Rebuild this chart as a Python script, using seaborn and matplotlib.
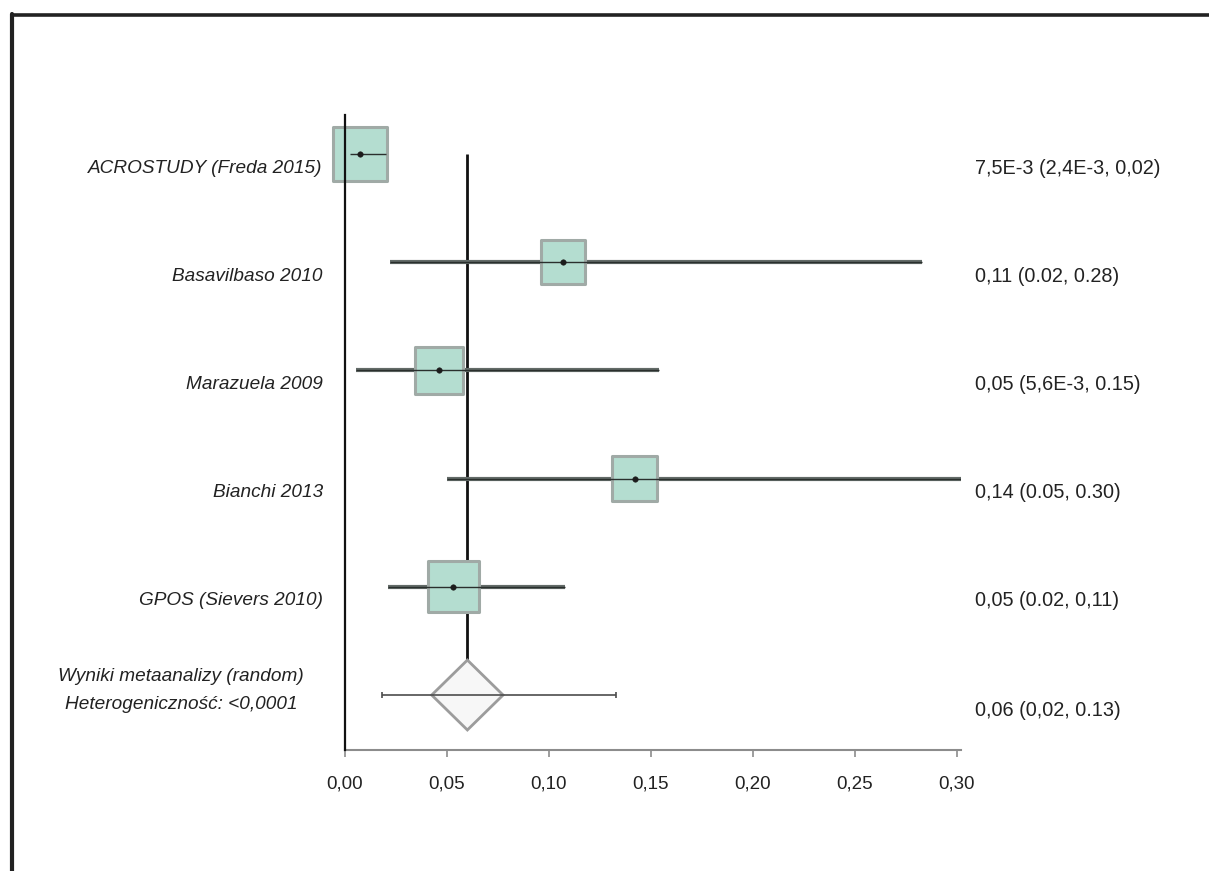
import numpy as np
import pandas as pd
import matplotlib
matplotlib.use("Agg")
import matplotlib.pyplot as plt
import seaborn as sns
from matplotlib.lines import Line2D
from matplotlib.patches import Polygon

# Study-level results (proportion with 95% CI) and study weights (%)
studies = ["ACROSTUDY (Freda 2015)", "Basavilbaso 2010", "Marazuela 2009",
           "Bianchi 2013", "GPOS (Sievers 2010)"]
estimates = [0.0075, 0.107, 0.046, 0.142, 0.053]
ci_low = [0.0024, 0.022, 0.0056, 0.050, 0.021]
ci_high = [0.020, 0.283, 0.154, 0.302, 0.108]
weights = [24.8, 16.2, 19.1, 17.6, 22.3]
effect_labels = ["7,5E-3 (2,4E-3, 0,02)", "0,11 (0.02, 0.28)", "0,05 (5,6E-3, 0.15)",
                 "0,14 (0.05, 0.30)", "0,05 (0.02, 0,11)"]

# Pooled (random effects) result
pooled_estimate = 0.060
pooled_low = 0.018
pooled_high = 0.133
diamond_low = 0.0425
diamond_high = 0.0775
pooled_label = "0,06 (0,02, 0.13)"
summary_lines = ["Wyniki metaanalizy (random)", "Heterogeniczność: <0,0001"]

x_ticks = [0.00, 0.05, 0.10, 0.15, 0.20, 0.25, 0.30]
x_tick_labels = ["0,00", "0,05", "0,10", "0,15", "0,20", "0,25", "0,30"]

sns.set_theme(style="white")
plt.rcParams["font.family"] = ["Liberation Sans", "DejaVu Sans"]

W, H = 1209, 871
fig = plt.figure(figsize=(W / 100, H / 100), dpi=100)
ax = fig.add_axes([345 / W, 1 - 750 / H, 616 / W, 635 / H])

rows = np.arange(len(studies))
pooled_row = len(studies)

# Confidence interval lines
ax.hlines(rows, ci_low, ci_high, color="#636b68", lw=3.0, zorder=2)

# Pooled estimate reference line
ax.vlines(pooled_estimate, 0, pooled_row - 0.323, color="#111111", lw=2.0, zorder=1)

# Weighted squares
px_per_unit_w = 10.84
edge_pt = 2.2
sq_df = pd.DataFrame({"est": estimates, "row": rows, "w": weights})
side_pt = [px_per_unit_w * np.sqrt(w) * 0.72 for w in (min(weights), max(weights))]
sns.scatterplot(data=sq_df, x="est", y="row", size="w",
                sizes=(side_pt[0] ** 2, side_pt[1] ** 2),
                size_norm=(min(weights), max(weights)),
                marker="s", color="#b4ddd0", edgecolor="#a0aaa6",
                linewidth=edge_pt, legend=False, ax=ax, zorder=3, clip_on=False)

# Thin interval and point marks on top of squares
ax.hlines(rows, ci_low, ci_high, color="#2a2f2d", lw=1.0, zorder=4)
sns.scatterplot(data=sq_df, x="est", y="row", marker="o", s=16,
                color="#1c1c1c", edgecolor="#1c1c1c", legend=False, ax=ax,
                zorder=5, clip_on=False)

# Pooled diamond with its interval
diamond = Polygon([[diamond_low, pooled_row], [pooled_estimate, pooled_row - 0.323],
                   [diamond_high, pooled_row], [pooled_estimate, pooled_row + 0.323]],
                  closed=True, facecolor="#f7f7f7", edgecolor="#9c9c9c", lw=2.0, zorder=2)
ax.add_patch(diamond)
ax.errorbar([pooled_estimate], [pooled_row],
            xerr=[[pooled_estimate - pooled_low], [pooled_high - pooled_estimate]],
            fmt="none", ecolor="#4d4d4d", elinewidth=1.2, capsize=2.5, capthick=1.2, zorder=3)

ax.set_xlim(0, 0.302)
ax.set_ylim(5.508, -0.36)
ax.set_xticks(x_ticks)
ax.set_xticklabels(x_tick_labels, fontsize=13.5, color="#222222")
ax.set_yticks([])
ax.set_xlabel("")
ax.set_ylabel("")

for side in ("top", "right"):
    ax.spines[side].set_visible(False)
ax.spines["left"].set_color("#111111")
ax.spines["left"].set_linewidth(1.6)
ax.spines["left"].set_zorder(6)
ax.spines["bottom"].set_color("#8c8c8c")
ax.spines["bottom"].set_linewidth(1.5)
ax.tick_params(axis="x", direction="out", length=5, width=1.2, color="#8c8c8c",
               pad=13, bottom=True)

ytr = ax.get_yaxis_transform()
for i, (name, lab) in enumerate(zip(studies, effect_labels)):
    ax.text(-0.036, i + 0.13, name, transform=ytr, ha="right", va="center",
            fontsize=13.7, style="italic", color="#222222")
    ax.text(1.0227, i + 0.13, lab, transform=ytr, ha="left", va="center",
            fontsize=14.3, color="#222222")

ax.text(-0.266, pooled_row - 0.17, summary_lines[0], transform=ytr, ha="center",
        va="center", fontsize=13.7, style="italic", color="#222222")
ax.text(-0.266, pooled_row + 0.09, summary_lines[1], transform=ytr, ha="center",
        va="center", fontsize=13.7, style="italic", color="#222222")
ax.text(1.0227, pooled_row + 0.14, pooled_label, transform=ytr, ha="left",
        va="center", fontsize=14.3, color="#222222")

# Outer frame (top and left edges)
fig.add_artist(Line2D([12 / W, 1.0], [1 - 15 / H, 1 - 15 / H], transform=fig.transFigure,
                      color="#222222", lw=2.6))
fig.add_artist(Line2D([12 / W, 12 / W], [1 - 14 / H, 0.0], transform=fig.transFigure,
                      color="#222222", lw=3.0))

fig.savefig("out.png", dpi=100, facecolor="white")
